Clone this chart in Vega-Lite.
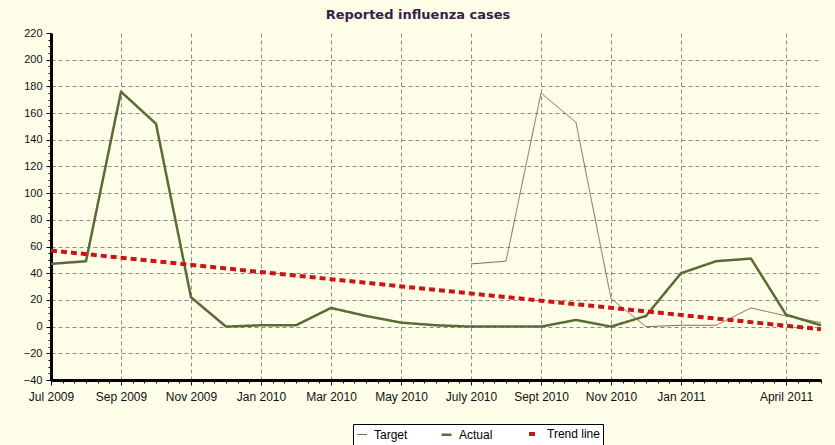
{
  "$schema": "https://vega.github.io/schema/vega-lite/v6.json",
  "width": 770,
  "height": 347,
  "autosize": {"type": "none"},
  "padding": {"left": 51, "top": 33, "right": 14, "bottom": 65},
  "background": "#fdfde8",
  "title": {"text": "Reported influenza cases", "fontSize": 13, "fontWeight": "bold", "color": "#3b1d4a", "font": "DejaVu Sans", "anchor": "middle", "dx": -18, "offset": 5},
  "config": {
    "view": {"stroke": null},
    "font": "Liberation Sans",
    "legend": {"orient": "none", "legendX": 302, "legendY": 391, "direction": "horizontal", "title": null, "strokeColor": "#000", "fillColor": "#ffffff", "padding": 3, "symbolSize": 100, "labelOffset": 6, "columnPadding": 28, "labelFontSize": 12, "labelColor": "#000", "labelFont": "Liberation Sans", "symbolType": "stroke"}
  },
  "data": {"values": [
    {"month": "Jul 2009", "m": 0, "series": "Actual", "value": 47},
    {"month": "Aug 2009", "m": 1, "series": "Actual", "value": 49},
    {"month": "Sep 2009", "m": 2, "series": "Actual", "value": 176},
    {"month": "Oct 2009", "m": 3, "series": "Actual", "value": 152},
    {"month": "Nov 2009", "m": 4, "series": "Actual", "value": 22},
    {"month": "Dec 2009", "m": 5, "series": "Actual", "value": 0},
    {"month": "Jan 2010", "m": 6, "series": "Actual", "value": 1},
    {"month": "Feb 2010", "m": 7, "series": "Actual", "value": 1},
    {"month": "Mar 2010", "m": 8, "series": "Actual", "value": 14},
    {"month": "Apr 2010", "m": 9, "series": "Actual", "value": 8},
    {"month": "May 2010", "m": 10, "series": "Actual", "value": 3},
    {"month": "Jun 2010", "m": 11, "series": "Actual", "value": 1},
    {"month": "Jul 2010", "m": 12, "series": "Actual", "value": 0},
    {"month": "Aug 2010", "m": 13, "series": "Actual", "value": 0},
    {"month": "Sep 2010", "m": 14, "series": "Actual", "value": 0},
    {"month": "Oct 2010", "m": 15, "series": "Actual", "value": 5},
    {"month": "Nov 2010", "m": 16, "series": "Actual", "value": 0},
    {"month": "Dec 2010", "m": 17, "series": "Actual", "value": 8},
    {"month": "Jan 2011", "m": 18, "series": "Actual", "value": 40},
    {"month": "Feb 2011", "m": 19, "series": "Actual", "value": 49},
    {"month": "Mar 2011", "m": 20, "series": "Actual", "value": 51},
    {"month": "Apr 2011", "m": 21, "series": "Actual", "value": 9},
    {"month": "May 2011", "m": 22, "series": "Actual", "value": 1},
    {"month": "Jul 2010", "m": 12, "series": "Target", "value": 47},
    {"month": "Aug 2010", "m": 13, "series": "Target", "value": 49},
    {"month": "Sep 2010", "m": 14, "series": "Target", "value": 175},
    {"month": "Oct 2010", "m": 15, "series": "Target", "value": 153},
    {"month": "Nov 2010", "m": 16, "series": "Target", "value": 21},
    {"month": "Dec 2010", "m": 17, "series": "Target", "value": 0},
    {"month": "Jan 2011", "m": 18, "series": "Target", "value": 1},
    {"month": "Feb 2011", "m": 19, "series": "Target", "value": 1},
    {"month": "Mar 2011", "m": 20, "series": "Target", "value": 14},
    {"month": "Apr 2011", "m": 21, "series": "Target", "value": 8},
    {"month": "May 2011", "m": 22, "series": "Target", "value": 3},
    {"month": "Jul 2009", "m": 0, "series": "Trend line", "value": 57},
    {"month": "May 2011", "m": 22, "series": "Trend line", "value": -2}
  ]},
  "encoding": {
    "x": {"field": "m", "type": "quantitative", "scale": {"domain": [0, 22], "nice": false, "zero": false}},
    "y": {"field": "value", "type": "quantitative", "scale": {"domain": [-40, 220], "nice": false, "zero": false}},
    "color": {"field": "series", "type": "nominal", "scale": {"domain": ["Target", "Actual", "Trend line"], "range": ["#8c6450", "#5a6b36", "#cc1414"]}},
    "strokeDash": {"field": "series", "type": "nominal", "scale": {"domain": ["Target", "Actual", "Trend line"], "range": [[1, 0], [1, 0], [6, 4]]}},
    "strokeWidth": {"field": "series", "type": "nominal", "scale": {"domain": ["Target", "Actual", "Trend line"], "range": [1, 4, 2]}}
  },
  "layer": [
    {
      "transform": [{"filter": "datum.series == 'Target'"}],
      "mark": {"type": "line", "strokeJoin": "round"},
      "encoding": {
        "x": {"field": "m", "type": "quantitative", "axis": {"orient": "bottom", "values": [0, 2, 4, 6, 8, 10, 12, 14, 16, 18, 21], "labelExpr": "['Jul 2009','','Sep 2009','','Nov 2009','','Jan 2010','','Mar 2010','','May 2010','','July 2010','','Sept 2010','','Nov 2010','','Jan 2011','','','April 2011',''][datum.value]", "grid": true, "gridDash": [4, 3], "gridColor": "#8a8a8a", "gridWidth": 1, "domainColor": "#000", "domainWidth": 3, "tickColor": "#000", "tickSize": 5, "labelPadding": 6, "labelFontSize": 12, "labelColor": "#111", "labelFont": "Liberation Sans", "title": null, "labelFlush": false, "labelOverlap": false}},
        "y": {"field": "value", "type": "quantitative", "axis": {"orient": "left", "values": [-40, -20, 0, 20, 40, 60, 80, 100, 120, 140, 160, 180, 200, 220], "grid": true, "gridDash": [4, 3], "gridColor": "#8a8a8a", "gridWidth": 1, "gridOpacity": {"condition": {"test": "datum.value == 220 || datum.value == -40", "value": 0}, "value": 1}, "domainColor": "#000", "domainWidth": 3, "tickColor": "#000", "tickSize": 5, "labelPadding": 4, "labelFontSize": 11, "labelColor": "#111", "labelFont": "Liberation Sans", "title": null, "labelFlush": false, "labelOverlap": false}}
      }
    },
    {
      "transform": [{"filter": "datum.series == 'Actual'"}],
      "mark": {"type": "line", "strokeJoin": "round"},
      "encoding": {
        "x": {"field": "m", "type": "quantitative", "axis": null},
        "y": {"field": "value", "type": "quantitative", "axis": null}
      }
    },
    {
      "transform": [{"filter": "datum.series == 'Trend line'"}],
      "mark": {"type": "line"},
      "encoding": {
        "x": {"field": "m", "type": "quantitative", "axis": null},
        "y": {"field": "value", "type": "quantitative", "axis": null}
      }
    },
    {
      "mark": {"type": "point", "opacity": 0},
      "encoding": {
        "x": {"field": "m", "type": "quantitative", "axis": {"orient": "bottom", "values": [0, 0.3333, 0.6667, 1, 1.3333, 1.6667, 2, 2.3333, 2.6667, 3, 3.3333, 3.6667, 4, 4.3333, 4.6667, 5, 5.3333, 5.6667, 6, 6.3333, 6.6667, 7, 7.3333, 7.6667, 8, 8.3333, 8.6667, 9, 9.3333, 9.6667, 10, 10.3333, 10.6667, 11, 11.3333, 11.6667, 12, 12.3333, 12.6667, 13, 13.3333, 13.6667, 14, 14.3333, 14.6667, 15, 15.3333, 15.6667, 16, 16.3333, 16.6667, 17, 17.3333, 17.6667, 18, 18.3333, 18.6667, 19, 19.3333, 19.6667, 20, 20.3333, 20.6667, 21, 21.3333, 21.6667, 22], "labels": false, "grid": false, "domain": false, "ticks": true, "tickSize": 3, "tickColor": "#000", "title": null}},
        "y": {"field": "value", "type": "quantitative", "axis": {"orient": "left", "values": [-35, -30, -25, -15, -10, -5, 5, 10, 15, 25, 30, 35, 45, 50, 55, 65, 70, 75, 85, 90, 95, 105, 110, 115, 125, 130, 135, 145, 150, 155, 165, 170, 175, 185, 190, 195, 205, 210, 215], "labels": false, "grid": false, "domain": false, "ticks": true, "tickSize": 3, "tickColor": "#000", "title": null}},
        "color": {"value": "#000"},
        "strokeDash": null,
        "strokeWidth": null
      }
    }
  ],
  "resolve": {"axis": {"x": "independent", "y": "independent"}}
}
